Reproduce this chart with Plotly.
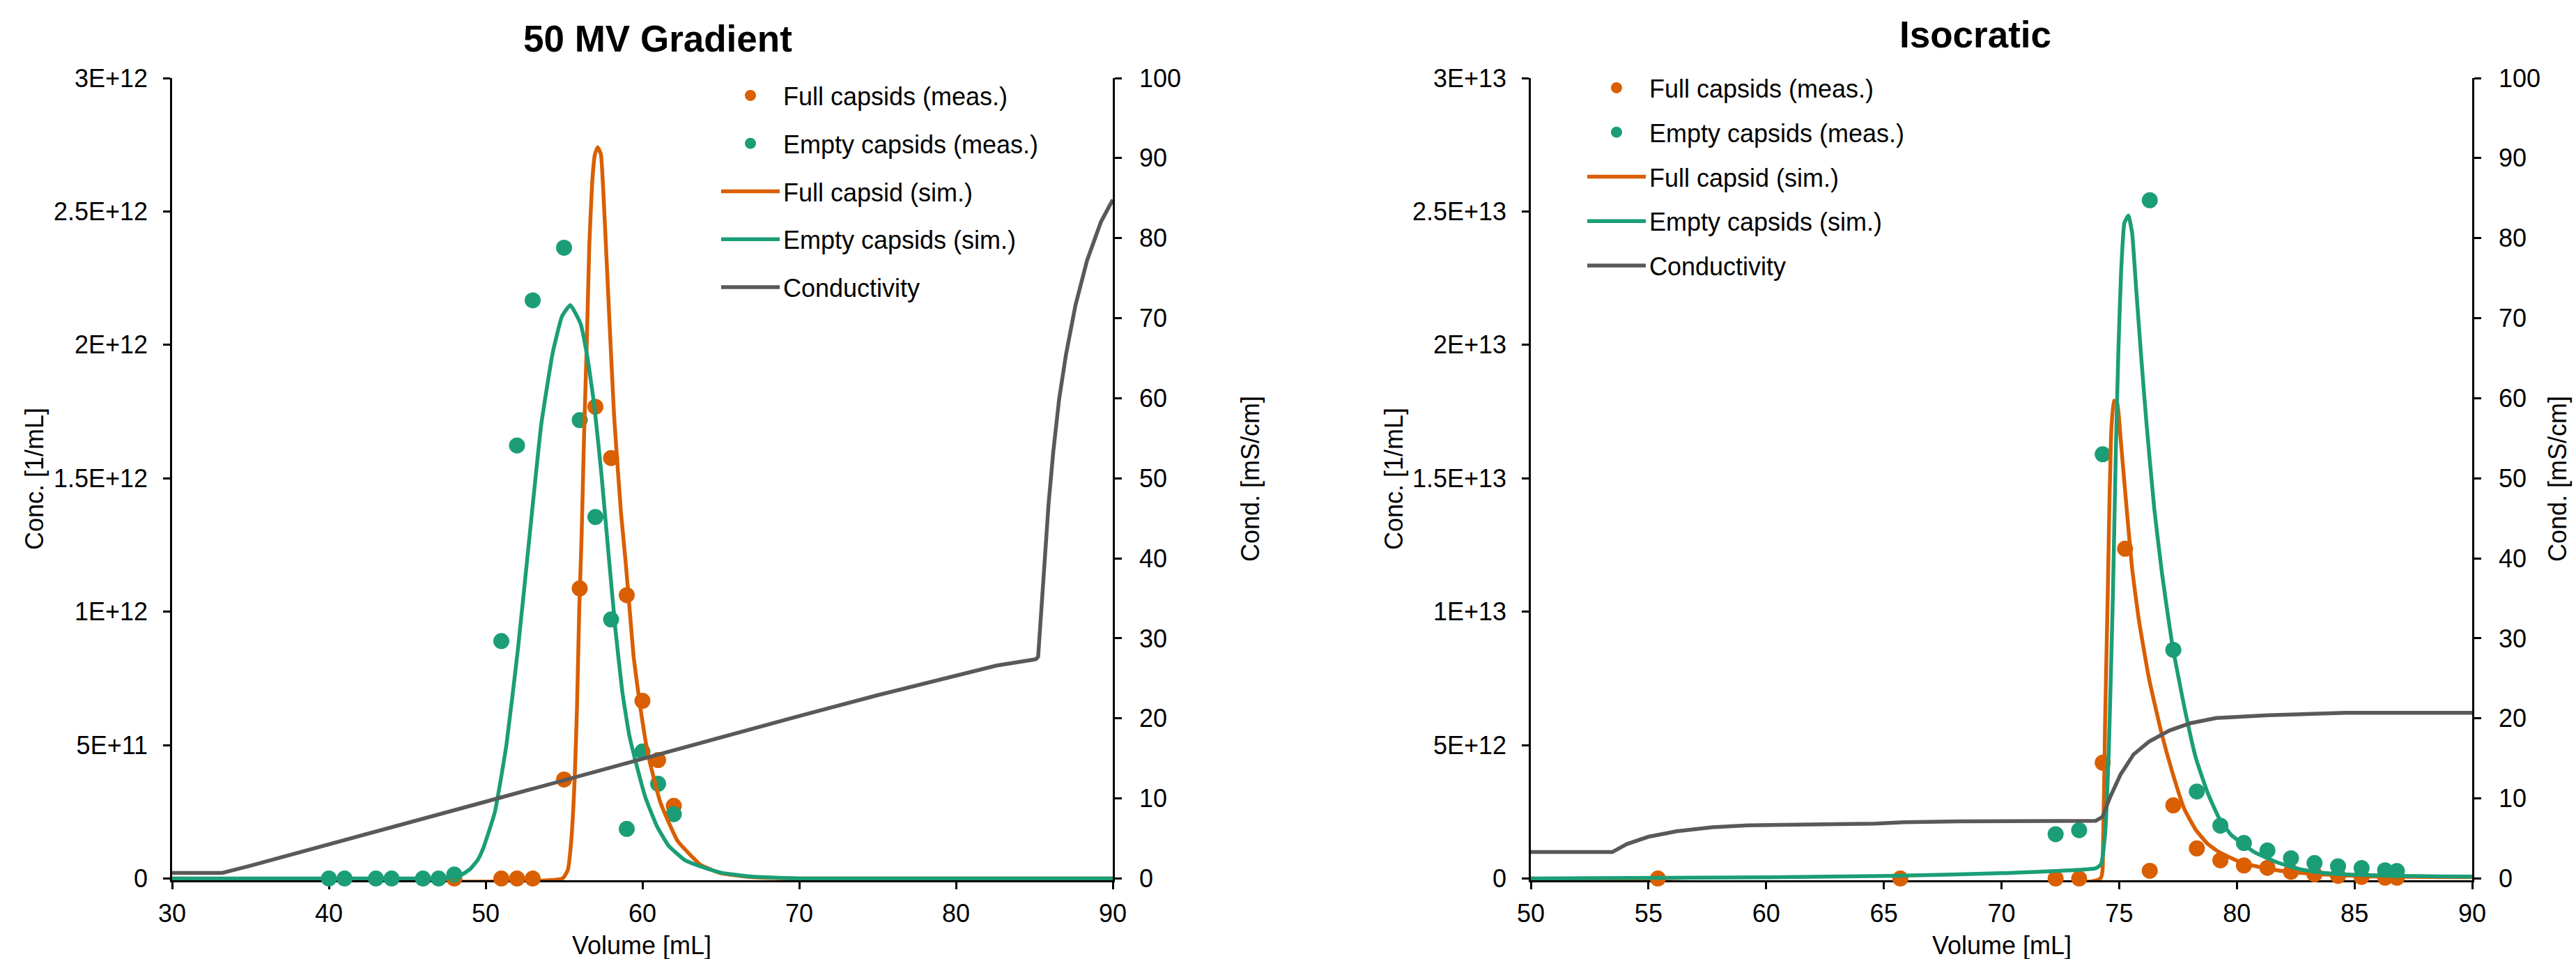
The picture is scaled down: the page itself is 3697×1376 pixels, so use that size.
import plotly.graph_objects as go

# ---------------- DATA ----------------
# Left panel: 50 MV Gradient
full_meas_left_vol = [48, 51, 52, 53, 55, 56, 57, 58, 59, 60, 61, 62]
full_meas_left = [0, 0, 0, 0, 0.371e12, 1.087e12, 1.768e12, 1.576e12, 1.062e12, 0.666e12, 0.444e12, 0.272e12]

empty_meas_left_vol = [40, 41, 43, 44, 46, 47, 48, 51, 52, 53, 55, 56, 57, 58, 59, 60, 61, 62]
empty_meas_left = [0, 0, 0, 0, 0, 0, 0.015e12, 0.890e12, 1.623e12, 2.167e12, 2.364e12, 1.718e12,
                   1.355e12, 0.971e12, 0.186e12, 0.476e12, 0.355e12, 0.241e12]

full_sim_left_vol = [30, 54.9, 55.24, 55.46, 55.68, 55.83, 55.97, 56.12, 56.27, 56.45, 56.61, 56.79,
                     56.97, 57.15, 57.35, 57.60, 57.89, 58.19, 58.63, 58.92, 59.18, 59.44, 59.85,
                     60.35, 61.14, 62.24, 63.72, 65.0, 67.0, 70.0, 90.0]
full_sim_left = [0, 0, 0.032e12, 0.141e12, 0.377e12, 0.648e12, 1.011e12, 1.283e12, 1.645e12, 2.007e12,
                 2.370e12, 2.605e12, 2.714e12, 2.741e12, 2.714e12, 2.460e12, 2.098e12, 1.736e12,
                 1.373e12, 1.192e12, 1.011e12, 0.830e12, 0.648e12, 0.467e12, 0.286e12, 0.141e12,
                 0.051e12, 0.020e12, 0.005e12, 0, 0]

empty_sim_left_vol = [30, 47.0, 48.0, 48.5, 49.0, 49.5, 49.85, 50.59, 51.33, 52.07, 52.80, 53.54,
                      54.28, 54.87, 55.40, 56.05, 56.49, 56.93, 57.38, 57.82, 58.27, 58.71, 59.15,
                      59.60, 60.19, 60.93, 61.67, 62.70, 63.88, 65.0, 67.0, 70.0, 90.0]
empty_sim_left = [0, 0, 0.005e12, 0.015e12, 0.035e12, 0.070e12, 0.114e12, 0.250e12, 0.503e12,
                  0.866e12, 1.283e12, 1.699e12, 1.971e12, 2.107e12, 2.149e12, 2.080e12, 1.953e12,
                  1.772e12, 1.518e12, 1.228e12, 0.938e12, 0.703e12, 0.540e12, 0.431e12, 0.304e12,
                  0.195e12, 0.123e12, 0.069e12, 0.042e12, 0.022e12, 0.007e12, 0, 0]

cond_left_vol = [30, 33.2, 34.0, 35.0, 50.0, 60.0, 70.0, 75.0, 80.36, 82.58, 84.8, 85.1, 85.24,
                 85.47, 85.69, 85.91, 86.21, 86.58, 87.02, 87.62, 88.36, 89.24, 90.0]
cond_left = [0.7, 0.7, 1.1, 1.6, 9.6, 15.0, 20.3, 22.9, 25.6, 26.6, 27.3, 27.4, 27.7,
             34.0, 40.5, 46.9, 53.4, 59.9, 65.5, 71.6, 77.2, 82.0, 84.8]

# Right panel: Isocratic
full_meas_right_vol = [55.4, 65.7, 72.3, 73.3, 74.3, 75.25, 76.3, 77.3, 78.3, 79.3, 80.3, 81.3,
                       82.3, 83.3, 84.3, 85.3, 86.3, 86.8]
full_meas_right = [0, 0, 0, 0, 4.34e12, 1.236e13, 0.29e12, 2.74e12, 1.13e12, 0.68e12, 0.49e12,
                   0.40e12, 0.25e12, 0.16e12, 0.10e12, 0.06e12, 0.03e12, 0.03e12]

empty_meas_right_vol = [72.3, 73.3, 74.3, 76.3, 77.3, 78.3, 79.3, 80.3, 81.3, 82.3, 83.3, 84.3,
                        85.3, 86.3, 86.8]
empty_meas_right = [1.66e12, 1.81e12, 1.590e13, 2.542e13, 8.57e12, 3.26e12, 1.98e12, 1.33e12,
                    1.05e12, 0.76e12, 0.58e12, 0.46e12, 0.39e12, 0.31e12, 0.28e12]

full_sim_right_vol = [50, 74.2, 74.31, 74.40, 74.51, 74.59, 74.67, 74.78, 74.92, 75.06, 75.28,
                      75.55, 75.83, 76.27, 76.80, 77.27, 77.77, 78.26, 78.76, 79.25, 79.75, 80.24,
                      81.23, 82.22, 83.71, 85.69, 88.66, 90]
full_sim_right = [0, 0, 1.09e12, 5.79e12, 1.049e13, 1.424e13, 1.687e13, 1.791e13, 1.781e13,
                  1.650e13, 1.424e13, 1.161e13, 9.73e12, 7.48e12, 5.45e12, 3.95e12, 2.60e12,
                  1.82e12, 1.30e12, 0.99e12, 0.77e12, 0.58e12, 0.38e12, 0.25e12, 0.15e12,
                  0.08e12, 0.05e12, 0.05e12]

empty_sim_right_vol = [50, 60.09, 65.24, 70.07, 74.0, 74.23, 74.40, 74.56, 74.73, 74.86, 74.97,
                       75.08, 75.22, 75.39, 75.55, 75.72, 75.94, 76.16, 76.49, 76.82, 77.25, 77.77,
                       78.26, 78.76, 79.25, 79.75, 80.25, 80.74, 81.73, 82.72, 83.71, 84.70, 86.68,
                       88.66, 90]
empty_sim_right = [0, 0.044e12, 0.10e12, 0.20e12, 0.38e12, 0.53e12, 1.66e12, 4.85e12, 1.049e13,
                   1.612e13, 1.988e13, 2.270e13, 2.457e13, 2.485e13, 2.420e13, 2.213e13, 1.950e13,
                   1.706e13, 1.387e13, 1.143e13, 8.80e12, 6.42e12, 4.51e12, 3.21e12, 2.25e12,
                   1.64e12, 1.30e12, 0.99e12, 0.60e12, 0.34e12, 0.21e12, 0.15e12, 0.10e12,
                   0.08e12, 0.07e12]

cond_right_vol = [50, 53.46, 54.08, 54.98, 56.19, 57.70, 59.21, 62.23, 64.64, 65.85, 68.27, 74.0,
                  74.29, 74.62, 75.06, 75.61, 76.27, 77.14, 78.02, 79.12, 81.32, 84.62, 90]
cond_right = [3.3, 3.3, 4.3, 5.2, 5.9, 6.4, 6.65, 6.8, 6.86, 7.04, 7.15, 7.2, 7.7, 10.2, 13.0,
              15.5, 17.1, 18.5, 19.4, 20.05, 20.4, 20.7, 20.7]

# tick labels
conc_left_tickvals = [0, 0.5e12, 1e12, 1.5e12, 2e12, 2.5e12, 3e12]
conc_left_ticktext = ["0", "5E+11", "1E+12", "1.5E+12", "2E+12", "2.5E+12", "3E+12"]
conc_right_tickvals = [0, 0.5e13, 1e13, 1.5e13, 2e13, 2.5e13, 3e13]
conc_right_ticktext = ["0", "5E+12", "1E+13", "1.5E+13", "2E+13", "2.5E+13", "3E+13"]
cond_tickvals = [0, 10, 20, 30, 40, 50, 60, 70, 80, 90, 100]
vol_left_ticks = [30, 40, 50, 60, 70, 80, 90]
vol_right_ticks = [50, 55, 60, 65, 70, 75, 80, 85, 90]

names = ["Full capsids (meas.)", "Empty capsids (meas.)", "Full capsid (sim.)",
         "Empty capsids (sim.)", "Conductivity"]

# ---------------- STYLE ----------------
W, H = 3697, 1376
ORANGE = "#D95F02"
GREEN = "#1B9E77"
GRAY = "#595959"
FONT = "Liberation Sans, Arial, sans-serif"
FS = 36
MS = 23
LW = 5.5

fig = go.Figure()


def add_panel(xa, ya, ya2, leg, fm_v, fm, em_v, em, fs_v, fs, es_v, es, c_v, c):
    fig.add_trace(go.Scatter(x=fm_v, y=fm, mode="markers", name=names[0],
                             marker=dict(color=ORANGE, size=MS), cliponaxis=False,
                             xaxis=xa, yaxis=ya, legend=leg, legendgroup=leg + "1"))
    fig.add_trace(go.Scatter(x=em_v, y=em, mode="markers", name=names[1],
                             marker=dict(color=GREEN, size=MS), cliponaxis=False,
                             xaxis=xa, yaxis=ya, legend=leg, legendgroup=leg + "2"))
    fig.add_trace(go.Scatter(x=fs_v, y=fs, mode="lines", name=names[2],
                             line=dict(color=ORANGE, width=LW, shape="spline", smoothing=0.4),
                             xaxis=xa, yaxis=ya, legend=leg, legendgroup=leg + "3"))
    fig.add_trace(go.Scatter(x=es_v, y=es, mode="lines", name=names[3],
                             line=dict(color=GREEN, width=LW, shape="spline", smoothing=0.4),
                             xaxis=xa, yaxis=ya, legend=leg, legendgroup=leg + "4"))
    fig.add_trace(go.Scatter(x=c_v, y=c, mode="lines", name=names[4],
                             line=dict(color=GRAY, width=LW),
                             xaxis=xa, yaxis=ya2, legend=leg, legendgroup=leg + "5"))


add_panel("x", "y", "y2", "legend",
          full_meas_left_vol, full_meas_left, empty_meas_left_vol, empty_meas_left,
          full_sim_left_vol, full_sim_left, empty_sim_left_vol, empty_sim_left,
          cond_left_vol, cond_left)
add_panel("x2", "y3", "y4", "legend2",
          full_meas_right_vol, full_meas_right, empty_meas_right_vol, empty_meas_right,
          full_sim_right_vol, full_sim_right, empty_sim_right_vol, empty_sim_right,
          cond_right_vol, cond_right)

axis_common = dict(showgrid=False, zeroline=False, showline=True, linecolor="black",
                   linewidth=2.5, ticks="outside", ticklen=10, tickwidth=2.5,
                   tickcolor="black", tickfont=dict(family=FONT, size=FS, color="black"),
                   layer="below traces")

dom_y = [1 - 1263 / H, 1 - 112 / H]
dom_x1 = [247 / W, 1597 / W]
dom_x2 = [2197 / W, 3548 / W]
eps_l = 3e12 * 2.5 / 1151
eps_r = 3e13 * 2.5 / 1151

fig.update_layout(
    width=W, height=H,
    margin=dict(l=0, r=0, t=0, b=0, pad=0, autoexpand=False),
    paper_bgcolor="white", plot_bgcolor="white",
    font=dict(family=FONT, size=FS, color="black"),
    showlegend=True,
    xaxis=dict(domain=dom_x1, anchor="y", range=[30, 90], tickvals=vol_left_ticks,
               ticklabelstandoff=4, **axis_common),
    yaxis=dict(domain=dom_y, anchor="x", range=[-eps_l, 3e12], tickvals=conc_left_tickvals,
               ticktext=conc_left_ticktext, ticklabelstandoff=15, **axis_common),
    yaxis2=dict(overlaying="y", side="right", anchor="x", range=[-100 * 2.5 / 1151, 100],
                tickvals=cond_tickvals, ticklabelstandoff=18, **axis_common),
    xaxis2=dict(domain=dom_x2, anchor="y3", range=[50, 90], tickvals=vol_right_ticks,
                ticklabelstandoff=4, **axis_common),
    yaxis3=dict(domain=dom_y, anchor="x2", range=[-eps_r, 3e13], tickvals=conc_right_tickvals,
                ticktext=conc_right_ticktext, ticklabelstandoff=15, **axis_common),
    yaxis4=dict(overlaying="y3", side="right", anchor="x2", range=[-100 * 2.5 / 1151, 100],
                tickvals=cond_tickvals, ticklabelstandoff=18, **axis_common),
    legend=dict(x=1030 / W, y=1 - 107 / H, xanchor="left", yanchor="top",
                bgcolor="rgba(0,0,0,0)", font=dict(family=FONT, size=FS, color="black"),
                tracegroupgap=19, itemwidth=84, traceorder="grouped"),
    legend2=dict(x=2273 / W, y=1 - 96 / H, xanchor="left", yanchor="top",
                 bgcolor="rgba(0,0,0,0)", font=dict(family=FONT, size=FS, color="black"),
                 tracegroupgap=14, itemwidth=84, traceorder="grouped"),
)

annots = [
    dict(text="<b>50 MV Gradient</b>", x=944 / W, y=1 - 56 / H, size=53, angle=0),
    dict(text="<b>Isocratic</b>", x=2835 / W, y=1 - 49 / H, size=53, angle=0),
    dict(text="Conc. [1/mL]", x=50 / W, y=1 - 687 / H, size=FS, angle=-90),
    dict(text="Cond. [mS/cm]", x=1795 / W, y=1 - 687 / H, size=FS, angle=-90),
    dict(text="Conc. [1/mL]", x=2001 / W, y=1 - 687 / H, size=FS, angle=-90),
    dict(text="Cond. [mS/cm]", x=3671 / W, y=1 - 687 / H, size=FS, angle=-90),
    dict(text="Volume [mL]", x=921 / W, y=1 - 1356 / H, size=FS, angle=0),
    dict(text="Volume [mL]", x=2873 / W, y=1 - 1356 / H, size=FS, angle=0),
]
for a in annots:
    fig.add_annotation(text=a["text"], x=a["x"], y=a["y"], xref="paper", yref="paper",
                       xanchor="center", yanchor="middle", showarrow=False,
                       textangle=a["angle"],
                       font=dict(family=FONT, size=a["size"], color="black"))

fig.write_html("out.html")
